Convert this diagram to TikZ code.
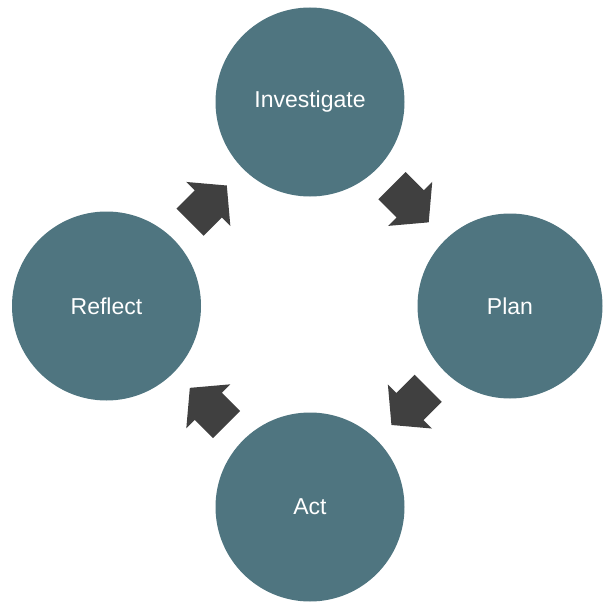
\documentclass[tikz,border=0pt]{standalone}
\usepackage{fontspec}
\setmainfont{Liberation Sans}
\usetikzlibrary{shapes.arrows,calc}
\definecolor{stagefill}{HTML}{4F7580}
\definecolor{arrowfill}{HTML}{404040}
\begin{document}
\begin{tikzpicture}[x=1pt, y=1pt,
      stage/.style={circle, fill=stagefill, minimum size=189pt, inner sep=0pt, text=white, font=\fontsize{23}{27}\selectfont},
      flow/.style={single arrow, fill=arrowfill, inner xsep=0pt, inner ysep=19pt, minimum height=52pt, minimum width=62pt, single arrow head extend=12pt, single arrow tip angle=100, anchor=tail}
  ]
    \useasboundingbox (0,0) rectangle (603,-602);

    \node[stage] (inv) at (310,-102) {Investigate};
    \node[stage, minimum size=185pt] (plan) at (510,-306) {Plan};
    \node[stage] (act) at (310,-507) {Act};
    \node[stage] (refl) at (106.5,-306) {Reflect};

    % block arrows half way between the stages, tail 26pt back from the middle
    \node[flow, rotate=-45] (invplan) at ($(inv)!0.5!(plan)!26pt!(inv)$) {};
    \node[flow, rotate=-135] (planact) at ($(plan)!0.5!(act)!26pt!(plan)$) {};
    \node[flow, rotate=135] (actrefl) at ($(act)!0.5!(refl)!26pt!(act)$) {};
    \node[flow, rotate=45] (reflinv) at ($(refl)!0.5!(inv)!26pt!(refl)$) {};
  \end{tikzpicture}
\end{document}
